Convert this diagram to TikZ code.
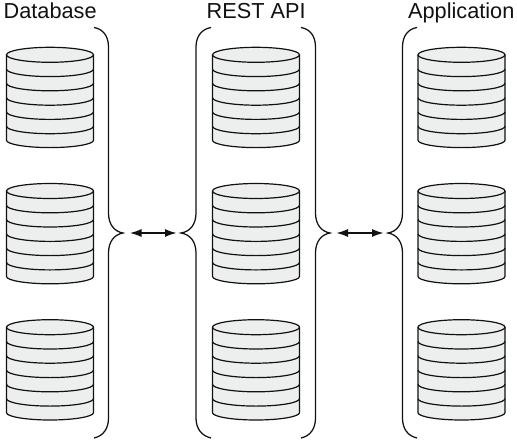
\documentclass[tikz,border=0pt]{standalone}
\usepackage{fontspec}
\setmainfont{Liberation Sans}
\usetikzlibrary{arrows.meta}
\definecolor{cylfill}{HTML}{EDEEEE}
\definecolor{inkc}{HTML}{111111}
\tikzset{
  x=1pt,y=-1pt,
  title/.style={inner sep=0pt,font=\fontsize{21.7}{24}\selectfont,text=inkc,anchor=base west},
  cylline/.style={draw=inkc,line width=1.2pt},
  bracel/.style={draw=inkc,line width=1.25pt},
  link/.style={draw=inkc,line width=1.2pt,{Latex[length=11.5pt,width=8pt]}-{Latex[length=11.5pt,width=8pt]}},
  pics/dbstack/.style={code={
    \path[fill=cylfill,cylline] (0,7.5) -- (0,93) .. controls (0,97) and (20,100.3) .. (43.5,100.3)
      .. controls (67,100.3) and (87,97) .. (87,93) -- (87,7.5)
      .. controls (87,3.3) and (67,0) .. (43.5,0) .. controls (20,0) and (0,3.3) .. (0,7.5) -- cycle;
    \foreach \yy in {7.5,21.8,36,50.4,64.6,78.9}{
      \draw[cylline] (0,\yy) .. controls (0,\yy+4.2) and (20,\yy+7.5) .. (43.5,\yy+7.5)
        .. controls (67,\yy+7.5) and (87,\yy+4.2) .. (87,\yy);
    }
  }}
}
\begin{document}
\begin{tikzpicture}
\useasboundingbox (0,0) rectangle (517,445);
\node[title] (tdb) at (3.5,18) {Database};
\node[title] (tapi) at (206.5,18) {REST API};
\node[title] (tapp) at (408,18) {Application};
\foreach \xx/\nm in {6.5/a,212.5/b,418/c}{
  \foreach \yy/\mm in {47.3/t,183.5/m,319.7/u}{
    \pic (\nm\mm) at (\xx,\yy) {dbstack};
  }
}
% brace tips
\coordinate (tipa) at (123,233);
\coordinate (tipb) at (181,233);
\coordinate (tipc) at (330,233);
\coordinate (tipd) at (388,233);
% braces
\draw[bracel] (94,27.5) .. controls (103,29) and (108.5,36) .. (108.5,47) -- (108.5,213)
  .. controls (108.5,224) and (114,231.5) .. (tipa)
  .. controls (114,234.5) and (108.5,242) .. (108.5,253) -- (108.5,418)
  .. controls (108.5,429) and (103,436) .. (94,438);
\draw[bracel] (211,27.5) .. controls (202,29) and (196,36) .. (196,47) -- (196,213)
  .. controls (196,224) and (190.5,231.5) .. (tipb)
  .. controls (190.5,234.5) and (196,242) .. (196,253) -- (196,418)
  .. controls (196,429) and (202,436) .. (211,438);
\draw[bracel] (301,27.5) .. controls (310,29) and (315.5,36) .. (315.5,47) -- (315.5,213)
  .. controls (315.5,224) and (321,231.5) .. (tipc)
  .. controls (321,234.5) and (315.5,242) .. (315.5,253) -- (315.5,418)
  .. controls (315.5,429) and (310,436) .. (301,438);
\draw[bracel] (417,27.5) .. controls (408,29) and (402.5,36) .. (402.5,47) -- (402.5,213)
  .. controls (402.5,224) and (397,231.5) .. (tipd)
  .. controls (397,234.5) and (402.5,242) .. (402.5,253) -- (402.5,418)
  .. controls (402.5,429) and (408,436) .. (417,438);
% arrows
\draw[link,shorten <=7pt,shorten >=4.5pt] (tipa) -- (tipb);
\draw[link,shorten <=6.5pt,shorten >=4.5pt] (tipc) -- (tipd);
\end{tikzpicture}
\end{document}
